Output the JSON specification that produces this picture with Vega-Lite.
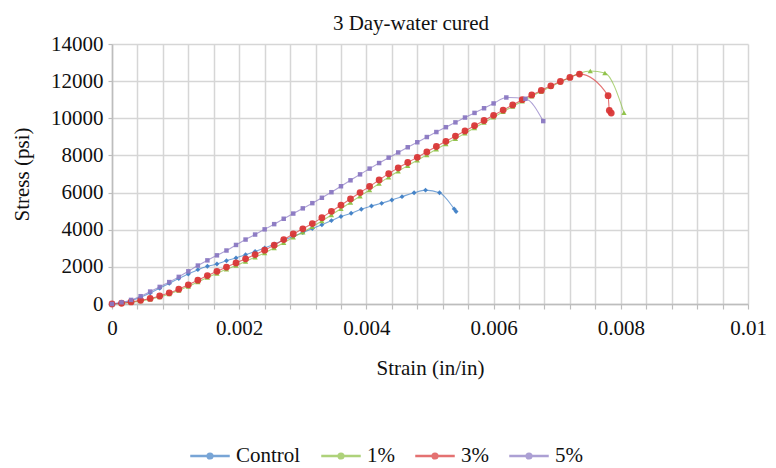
{
  "$schema": "https://vega.github.io/schema/vega-lite/v6.json",
  "width": 636,
  "height": 260,
  "autosize": {"type": "none"},
  "padding": {"left": 112, "top": 44, "right": 28, "bottom": 164},
  "background": "white",
  "title": {"text": "3 Day-water cured", "font": "Liberation Serif", "fontSize": 21, "fontWeight": "normal", "color": "#111111", "anchor": "middle", "frame": "group", "offset": 4, "baseline": "bottom", "dx": -19, "dy": 26},
  "config": {
    "font": "Liberation Serif",
    "view": {"stroke": null},
    "axis": {"labelFont": "Liberation Serif", "labelFontSize": 21, "labelColor": "#111111", "titleFont": "Liberation Serif", "titleFontSize": 21, "titleFontWeight": "normal", "titleColor": "#111111", "gridColor": "#d6d6d6", "gridWidth": 1.5, "domainColor": "#bdbdbd", "domainWidth": 1.5, "tickColor": "#bdbdbd", "tickWidth": 1.2},
    "legend": {"labelFont": "Liberation Serif", "labelFontSize": 21, "labelColor": "#111111", "labelOffset": 6, "columnPadding": 18, "labelLimit": 200, "symbolSize": 1444, "symbolType": "M-1,-0.03H1V0.03H-1Z M0.15,0A0.15,0.15,0,1,1,-0.15,0A0.15,0.15,0,1,1,0.15,0Z"}
  },
  "data": {"values": [
    {"s": "Control", "x": 0, "y": 0},
    {"s": "Control", "x": 0.00015, "y": 70},
    {"s": "Control", "x": 0.0003, "y": 180},
    {"s": "Control", "x": 0.00045, "y": 360},
    {"s": "Control", "x": 0.0006, "y": 590},
    {"s": "Control", "x": 0.00075, "y": 850},
    {"s": "Control", "x": 0.0009, "y": 1110},
    {"s": "Control", "x": 0.00105, "y": 1370},
    {"s": "Control", "x": 0.0012, "y": 1610},
    {"s": "Control", "x": 0.00135, "y": 1850},
    {"s": "Control", "x": 0.0015, "y": 2030},
    {"s": "Control", "x": 0.00165, "y": 2150},
    {"s": "Control", "x": 0.0018, "y": 2330},
    {"s": "Control", "x": 0.00195, "y": 2480},
    {"s": "Control", "x": 0.0021, "y": 2650},
    {"s": "Control", "x": 0.00225, "y": 2830},
    {"s": "Control", "x": 0.0024, "y": 3020},
    {"s": "Control", "x": 0.00255, "y": 3220},
    {"s": "Control", "x": 0.0027, "y": 3430},
    {"s": "Control", "x": 0.00285, "y": 3640},
    {"s": "Control", "x": 0.003, "y": 3850},
    {"s": "Control", "x": 0.00315, "y": 4060},
    {"s": "Control", "x": 0.0033, "y": 4270},
    {"s": "Control", "x": 0.00345, "y": 4490},
    {"s": "Control", "x": 0.0036, "y": 4710},
    {"s": "Control", "x": 0.00376, "y": 4890},
    {"s": "Control", "x": 0.00392, "y": 5100},
    {"s": "Control", "x": 0.00408, "y": 5280},
    {"s": "Control", "x": 0.00424, "y": 5420},
    {"s": "Control", "x": 0.0044, "y": 5600},
    {"s": "Control", "x": 0.00456, "y": 5780},
    {"s": "Control", "x": 0.00475, "y": 5990},
    {"s": "Control", "x": 0.00493, "y": 6130},
    {"s": "Control", "x": 0.00515, "y": 5990},
    {"s": "Control", "x": 0.00538, "y": 5120},
    {"s": "Control", "x": 0.00541, "y": 4980},
    {"s": "1%", "x": 0, "y": 0},
    {"s": "1%", "x": 0.00015, "y": 30},
    {"s": "1%", "x": 0.0003, "y": 90},
    {"s": "1%", "x": 0.00045, "y": 170},
    {"s": "1%", "x": 0.0006, "y": 260},
    {"s": "1%", "x": 0.00075, "y": 380},
    {"s": "1%", "x": 0.0009, "y": 540},
    {"s": "1%", "x": 0.00105, "y": 730},
    {"s": "1%", "x": 0.0012, "y": 950},
    {"s": "1%", "x": 0.00135, "y": 1190},
    {"s": "1%", "x": 0.0015, "y": 1430},
    {"s": "1%", "x": 0.00165, "y": 1650},
    {"s": "1%", "x": 0.0018, "y": 1870},
    {"s": "1%", "x": 0.00195, "y": 2070},
    {"s": "1%", "x": 0.0021, "y": 2290},
    {"s": "1%", "x": 0.00225, "y": 2520},
    {"s": "1%", "x": 0.0024, "y": 2750},
    {"s": "1%", "x": 0.00255, "y": 3020},
    {"s": "1%", "x": 0.0027, "y": 3300},
    {"s": "1%", "x": 0.00285, "y": 3590},
    {"s": "1%", "x": 0.003, "y": 3870},
    {"s": "1%", "x": 0.00315, "y": 4160},
    {"s": "1%", "x": 0.0033, "y": 4470},
    {"s": "1%", "x": 0.00345, "y": 4800},
    {"s": "1%", "x": 0.0036, "y": 5130},
    {"s": "1%", "x": 0.00375, "y": 5470},
    {"s": "1%", "x": 0.0039, "y": 5810},
    {"s": "1%", "x": 0.00405, "y": 6140},
    {"s": "1%", "x": 0.0042, "y": 6490},
    {"s": "1%", "x": 0.00435, "y": 6830},
    {"s": "1%", "x": 0.0045, "y": 7150},
    {"s": "1%", "x": 0.00465, "y": 7450},
    {"s": "1%", "x": 0.0048, "y": 7740},
    {"s": "1%", "x": 0.00495, "y": 8030},
    {"s": "1%", "x": 0.0051, "y": 8330},
    {"s": "1%", "x": 0.00525, "y": 8620},
    {"s": "1%", "x": 0.0054, "y": 8900},
    {"s": "1%", "x": 0.00555, "y": 9190},
    {"s": "1%", "x": 0.0057, "y": 9480},
    {"s": "1%", "x": 0.00585, "y": 9770},
    {"s": "1%", "x": 0.006, "y": 10060},
    {"s": "1%", "x": 0.00615, "y": 10350},
    {"s": "1%", "x": 0.0063, "y": 10640},
    {"s": "1%", "x": 0.00645, "y": 10920},
    {"s": "1%", "x": 0.0066, "y": 11190},
    {"s": "1%", "x": 0.00675, "y": 11440},
    {"s": "1%", "x": 0.0069, "y": 11700},
    {"s": "1%", "x": 0.00705, "y": 11950},
    {"s": "1%", "x": 0.0072, "y": 12200},
    {"s": "1%", "x": 0.00735, "y": 12420},
    {"s": "1%", "x": 0.00752, "y": 12550},
    {"s": "1%", "x": 0.00775, "y": 12440},
    {"s": "1%", "x": 0.00805, "y": 10300},
    {"s": "3%", "x": 0, "y": 0},
    {"s": "3%", "x": 0.00015, "y": 40},
    {"s": "3%", "x": 0.0003, "y": 110},
    {"s": "3%", "x": 0.00045, "y": 200},
    {"s": "3%", "x": 0.0006, "y": 300},
    {"s": "3%", "x": 0.00075, "y": 430},
    {"s": "3%", "x": 0.0009, "y": 600},
    {"s": "3%", "x": 0.00105, "y": 800},
    {"s": "3%", "x": 0.0012, "y": 1030},
    {"s": "3%", "x": 0.00135, "y": 1280},
    {"s": "3%", "x": 0.0015, "y": 1530},
    {"s": "3%", "x": 0.00165, "y": 1760},
    {"s": "3%", "x": 0.0018, "y": 1990},
    {"s": "3%", "x": 0.00195, "y": 2210},
    {"s": "3%", "x": 0.0021, "y": 2430},
    {"s": "3%", "x": 0.00225, "y": 2660},
    {"s": "3%", "x": 0.0024, "y": 2900},
    {"s": "3%", "x": 0.00255, "y": 3170},
    {"s": "3%", "x": 0.0027, "y": 3470},
    {"s": "3%", "x": 0.00285, "y": 3770},
    {"s": "3%", "x": 0.003, "y": 4050},
    {"s": "3%", "x": 0.00315, "y": 4330},
    {"s": "3%", "x": 0.0033, "y": 4650},
    {"s": "3%", "x": 0.00345, "y": 4990},
    {"s": "3%", "x": 0.0036, "y": 5320},
    {"s": "3%", "x": 0.00375, "y": 5660},
    {"s": "3%", "x": 0.0039, "y": 6000},
    {"s": "3%", "x": 0.00405, "y": 6330},
    {"s": "3%", "x": 0.0042, "y": 6680},
    {"s": "3%", "x": 0.00435, "y": 7020},
    {"s": "3%", "x": 0.0045, "y": 7330},
    {"s": "3%", "x": 0.00465, "y": 7620},
    {"s": "3%", "x": 0.0048, "y": 7900},
    {"s": "3%", "x": 0.00495, "y": 8190},
    {"s": "3%", "x": 0.0051, "y": 8480},
    {"s": "3%", "x": 0.00525, "y": 8760},
    {"s": "3%", "x": 0.0054, "y": 9040},
    {"s": "3%", "x": 0.00555, "y": 9320},
    {"s": "3%", "x": 0.0057, "y": 9600},
    {"s": "3%", "x": 0.00585, "y": 9880},
    {"s": "3%", "x": 0.006, "y": 10160},
    {"s": "3%", "x": 0.00615, "y": 10440},
    {"s": "3%", "x": 0.0063, "y": 10720},
    {"s": "3%", "x": 0.00645, "y": 11000},
    {"s": "3%", "x": 0.0066, "y": 11260},
    {"s": "3%", "x": 0.00675, "y": 11500},
    {"s": "3%", "x": 0.0069, "y": 11750},
    {"s": "3%", "x": 0.00705, "y": 11980},
    {"s": "3%", "x": 0.0072, "y": 12200},
    {"s": "3%", "x": 0.00735, "y": 12380},
    {"s": "3%", "x": 0.0078, "y": 11220},
    {"s": "3%", "x": 0.00782, "y": 10420},
    {"s": "3%", "x": 0.00785, "y": 10280},
    {"s": "5%", "x": 0, "y": 0},
    {"s": "5%", "x": 0.00015, "y": 90},
    {"s": "5%", "x": 0.0003, "y": 220},
    {"s": "5%", "x": 0.00045, "y": 420},
    {"s": "5%", "x": 0.0006, "y": 670},
    {"s": "5%", "x": 0.00075, "y": 920},
    {"s": "5%", "x": 0.0009, "y": 1180},
    {"s": "5%", "x": 0.00105, "y": 1460},
    {"s": "5%", "x": 0.0012, "y": 1760},
    {"s": "5%", "x": 0.00135, "y": 2070},
    {"s": "5%", "x": 0.0015, "y": 2350},
    {"s": "5%", "x": 0.00165, "y": 2620},
    {"s": "5%", "x": 0.0018, "y": 2880},
    {"s": "5%", "x": 0.00195, "y": 3180},
    {"s": "5%", "x": 0.0021, "y": 3470},
    {"s": "5%", "x": 0.00225, "y": 3740},
    {"s": "5%", "x": 0.0024, "y": 4020},
    {"s": "5%", "x": 0.00255, "y": 4300},
    {"s": "5%", "x": 0.0027, "y": 4590},
    {"s": "5%", "x": 0.00285, "y": 4870},
    {"s": "5%", "x": 0.003, "y": 5150},
    {"s": "5%", "x": 0.00315, "y": 5430},
    {"s": "5%", "x": 0.0033, "y": 5720},
    {"s": "5%", "x": 0.00345, "y": 6020},
    {"s": "5%", "x": 0.0036, "y": 6340},
    {"s": "5%", "x": 0.00375, "y": 6660},
    {"s": "5%", "x": 0.0039, "y": 6980},
    {"s": "5%", "x": 0.00405, "y": 7290},
    {"s": "5%", "x": 0.0042, "y": 7590},
    {"s": "5%", "x": 0.00435, "y": 7880},
    {"s": "5%", "x": 0.0045, "y": 8160},
    {"s": "5%", "x": 0.00465, "y": 8440},
    {"s": "5%", "x": 0.0048, "y": 8710},
    {"s": "5%", "x": 0.00495, "y": 8990},
    {"s": "5%", "x": 0.0051, "y": 9260},
    {"s": "5%", "x": 0.00525, "y": 9520},
    {"s": "5%", "x": 0.0054, "y": 9780},
    {"s": "5%", "x": 0.00555, "y": 10040},
    {"s": "5%", "x": 0.0057, "y": 10290},
    {"s": "5%", "x": 0.00585, "y": 10540},
    {"s": "5%", "x": 0.006, "y": 10800},
    {"s": "5%", "x": 0.0062, "y": 11120},
    {"s": "5%", "x": 0.0065, "y": 11050},
    {"s": "5%", "x": 0.00678, "y": 9850}
  ]},
  "encoding": {
    "x": {"field": "x", "type": "quantitative", "scale": {"domain": [0, 0.01], "nice": false, "zero": true},
      "axis": {"title": "Strain (in/in)", "values": [0, 0.0004, 0.0008, 0.0012, 0.0016, 0.002, 0.0024, 0.0028, 0.0032, 0.0036, 0.004, 0.0044, 0.0048, 0.0052, 0.0056, 0.006, 0.0064, 0.0068, 0.0072, 0.0076, 0.008, 0.0084, 0.0088, 0.0092, 0.0096, 0.01],
        "labelExpr": "round(datum.value*10000) % 20 == 0 ? format(datum.value, '.3~f') : ''", "tickSize": 5, "labelPadding": 8, "titlePadding": 19, "labelFlush": false, "labelOverlap": false}},
    "y": {"field": "y", "type": "quantitative", "scale": {"domain": [0, 14000], "nice": false},
      "axis": {"title": "Stress (psi)", "values": [0, 2000, 4000, 6000, 8000, 10000, 12000, 14000], "format": "d", "tickSize": 4, "labelPadding": 5, "titlePadding": 18}},
    "color": {"field": "s", "type": "nominal", "scale": {"domain": ["Control", "1%", "3%", "5%"], "range": ["#3f7fc6", "#8cc043", "#d93636", "#8a78c2"]},
      "legend": {"orient": "none", "legendX": 78, "legendY": 392, "direction": "horizontal", "title": null,
        "symbolType": "M-1,-0.03H1V0.03H-1Z M0.15,0A0.15,0.15,0,1,1,-0.15,0A0.15,0.15,0,1,1,0.15,0Z",
        "symbolSize": 1444, "labelFont": "Liberation Serif", "labelFontSize": 21, "labelColor": "#111111", "labelOffset": 6, "columnPadding": 18, "labelLimit": 200,
        "encode": {"symbols": {"update": {"fill": {"scale": "color", "field": "value"}, "stroke": {"scale": "color", "field": "value"}, "strokeWidth": {"value": 0.8}, "opacity": {"value": 1}, "fillOpacity": {"value": 1}, "strokeOpacity": {"value": 1}}}, "labels": {"update": {"font": {"value": "Liberation Serif"}}}}}}
  },
  "layer": [
    {"mark": {"type": "line", "strokeWidth": 1.1, "opacity": 0.7, "interpolate": "monotone"}, "encoding": {}},
    {"transform": [{"filter": "datum.s == 'Control'"}], "mark": {"type": "point", "filled": true, "opacity": 0.95, "shape": "diamond", "size": 24}},
    {"transform": [{"filter": "datum.s == '1%'"}], "mark": {"type": "point", "filled": true, "opacity": 0.95, "shape": "triangle-up", "size": 28}},
    {"transform": [{"filter": "datum.s == '3%'"}], "mark": {"type": "point", "filled": true, "opacity": 0.95, "shape": "circle", "size": 46}},
    {"transform": [{"filter": "datum.s == '5%'"}], "mark": {"type": "point", "filled": true, "opacity": 0.95, "shape": "square", "size": 20}}
  ]
}
